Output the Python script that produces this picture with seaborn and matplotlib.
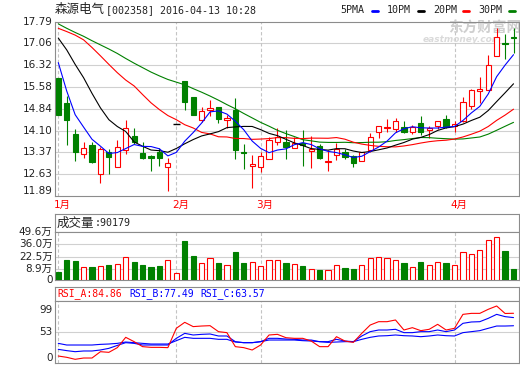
import numpy as np
import pandas as pd
import matplotlib
matplotlib.use("Agg")
import matplotlib.pyplot as plt
import matplotlib.transforms as mtrans
from matplotlib.lines import Line2D
import seaborn as sns

sns.set_theme(style="white")
plt.rcParams['font.family'] = ['DejaVu Sans', 'Noto Sans CJK SC']

# ---------------- data ----------------
title_name = "森源电气"
title_rest = "[002358] 2016-04-13 10:28"
month_labels = ["1月", "2月", "3月", "4月"]
month_idx = [0, 14, 24, 47]
price_ticks = [17.79, 17.06, 16.32, 15.58, 14.84, 14.10, 13.37, 12.63, 11.89]
vol_ticks = [49.6, 36.0, 22.5, 8.9]
vol_tick_labels = ["49.6万", "36.0万", "22.5万", "8.9万"]
rsi_ticks = [99, 53, 0]
legend_names = ["5PMA", "10PM", "20PM", "30PM"]

open_ = [15.87, 15.02, 13.98, 13.30, 13.62, 12.62, 13.37, 12.88, 13.45, 13.93,
         13.34, 13.25, 13.37, 12.87, 14.32, 15.77, 15.24, 14.47, 14.81, 14.90,
         14.45, 14.81, 13.37, 12.92, 12.86, 13.13, 13.73, 13.71, 13.52, 13.68,
         13.42, 13.59, 13.05, 13.28, 13.39, 13.25, 13.09, 13.43, 14.04, 14.19,
         14.15, 14.22, 14.05, 14.36, 14.11, 14.25, 14.49, 14.27, 14.42, 14.93,
         15.45, 15.46, 16.61, 17.06, 17.25]
high = [15.87, 15.27, 14.17, 13.72, 13.70, 13.56, 13.47, 13.79, 14.47, 14.19,
        13.70, 13.27, 13.51, 13.19, 14.32, 15.77, 15.24, 14.90, 15.12, 14.90,
        14.62, 15.21, 13.65, 13.28, 13.39, 13.88, 14.19, 14.13, 13.90, 14.13,
        13.92, 13.65, 13.43, 13.68, 13.47, 13.28, 13.39, 14.02, 14.27, 14.49,
        14.53, 14.42, 14.30, 14.61, 14.25, 14.44, 14.64, 14.42, 15.24, 15.52,
        15.92, 16.67, 17.56, 17.37, 17.56]
low = [14.62, 13.63, 13.09, 13.16, 13.02, 12.33, 12.64, 12.86, 13.30, 13.65,
       13.13, 12.75, 12.92, 12.07, 14.32, 14.79, 14.62, 14.38, 14.59, 14.36,
       14.19, 13.13, 12.81, 12.15, 12.71, 13.13, 13.62, 13.13, 13.50, 12.92,
       12.85, 13.13, 12.75, 13.11, 13.13, 12.88, 13.09, 13.39, 13.85, 14.04,
       14.04, 14.02, 13.98, 13.95, 13.85, 14.15, 14.19, 14.07, 14.38, 14.84,
       15.04, 15.46, 16.61, 16.52, 16.72]
close = [14.64, 14.45, 13.39, 13.51, 13.05, 13.47, 13.22, 13.54, 14.19, 13.73,
         13.16, 13.19, 13.16, 12.99, 14.32, 15.06, 14.64, 14.77, 14.88, 14.49,
         14.52, 13.43, 13.33, 12.97, 13.25, 13.79, 13.88, 13.53, 13.67, 13.60,
         13.47, 13.16, 13.09, 13.47, 13.22, 13.02, 13.37, 13.88, 14.24, 14.22,
         14.42, 14.06, 14.22, 14.06, 14.18, 14.42, 14.22, 14.32, 15.08, 15.46,
         15.52, 16.32, 17.25, 17.03, 17.22]

ma5_head = [16.40, 15.44, 14.64, 14.22]
ma10_head = [17.23, 16.83, 16.34, 15.89, 15.36, 14.87, 14.47, 14.24, 14.07]
ma20_head = [17.56, 17.45, 17.33, 17.17, 16.91, 16.63, 16.34, 16.06, 15.81, 15.61,
             15.32, 15.04, 14.81, 14.61, 14.47, 14.30, 14.19, 14.04, 13.99]
ma30_head = [17.71, 17.56, 17.42, 17.29, 17.14, 17.00, 16.86, 16.71, 16.54, 16.38,
             16.23, 16.08, 15.95, 15.83, 15.74, 15.65, 15.52, 15.40, 15.27, 15.13,
             14.98, 14.84, 14.68, 14.53, 14.38, 14.25, 14.11, 14.00, 13.90]

volume = [5.9, 18.9, 17.8, 10.8, 11.5, 12.2, 13.3, 14.4, 21.9, 16.7,
          13.3, 11.1, 12.2, 18.5, 4.1, 40.0, 23.3, 15.2, 20.8, 15.2,
          13.0, 27.4, 15.2, 16.3, 12.2, 18.5, 18.5, 15.6, 14.1, 12.2,
          8.6, 7.8, 7.5, 13.0, 10.0, 8.9, 13.0, 20.8, 22.2, 21.1,
          18.5, 15.6, 11.1, 16.7, 13.3, 16.7, 15.6, 13.0, 27.4, 25.5,
          30.0, 41.1, 44.1, 28.9, 9.02]
last_volume = 90179

rsi_a = [11.9, 9.7, 6.3, 8.5, 8.5, 19.3, 18.2, 26.2, 43.8, 36.4,
         27.9, 26.7, 26.7, 26.2, 59.2, 69.4, 62.1, 63.1, 63.7, 53.5,
         51.8, 27.9, 26.2, 22.2, 30.7, 47.8, 48.9, 43.2, 42.1, 42.1,
         37.5, 27.9, 27.9, 44.9, 37.5, 35.2, 50.6, 64.8, 70.5, 70.5,
         73.4, 56.3, 60.3, 55.2, 57.5, 66.0, 56.3, 59.2, 83.0, 84.7,
         84.7, 91.6, 97.3, 84.5, 84.86]
rsi_b = [23.3, 21.1, 19.3, 20.5, 20.5, 22.2, 25.0, 30.0, 34.7, 33.5,
         30.7, 30.7, 30.7, 30.7, 42.1, 50.6, 47.8, 48.9, 49.5, 46.1,
         46.1, 36.4, 34.7, 34.7, 36.4, 42.1, 42.1, 40.9, 40.4, 39.2,
         39.2, 36.4, 36.4, 40.4, 37.5, 36.4, 46.1, 53.5, 56.3, 56.3,
         57.5, 51.8, 51.8, 53.5, 53.5, 56.3, 53.5, 56.3, 67.7, 70.0,
         70.5, 76.2, 83.0, 79.1, 77.49]
rsi_c = [33.5, 30.7, 30.7, 30.7, 30.7, 31.8, 32.4, 33.5, 35.8, 34.7,
         33.5, 32.4, 32.4, 32.4, 38.1, 43.8, 42.1, 42.1, 42.1, 40.4,
         40.4, 35.8, 34.7, 34.7, 36.4, 39.2, 39.2, 39.2, 39.2, 38.1,
         37.5, 36.4, 35.2, 35.8, 36.4, 36.4, 40.4, 43.8, 46.1, 46.6,
         47.8, 46.6, 46.1, 44.9, 46.1, 47.8, 46.6, 46.1, 51.8, 53.5,
         55.2, 59.2, 63.1, 63.1, 63.57]

# ---------------- style ----------------
W, H = 520, 365
RED, GREEN, BLUE, BLACK = '#ff0000', '#008000', '#0000ff', '#000000'
BORDER, GRID, VGRID = '#8c8c8c', '#d0d0d0', '#c4c4c4'
TXT = '#222222'
MONO = ['DejaVu Sans Mono', 'Noto Sans CJK SC']
CJK = ['Noto Sans CJK SC', 'DejaVu Sans']
LW = 0.8

fig = plt.figure(figsize=(W / 100, H / 100), dpi=100)
fig.patch.set_facecolor('white')


def fx(x):
    return x / W


def fy(y):
    return 1 - y / H


def px_ax(x0, y0, x1, y1):
    ax = fig.add_axes([x0 / W, 1 - y1 / H, (x1 - x0) / W, (y1 - y0) / H])
    ax.set_facecolor('white')
    for s in ax.spines.values():
        s.set_color(BORDER)
        s.set_linewidth(LW)
    ax.set_xticks([])
    ax.set_yticks([])
    return ax


n = len(close)
idx = np.arange(n)
o = np.array(open_)
c = np.array(close)
h = np.array(high)
l = np.array(low)
XL = (-0.39, 54.59)
X0, X1 = 55, 518.5


def rolling_with_head(head, window):
    s = pd.Series(close).rolling(window).mean().to_numpy()
    s[:len(head)] = head
    return s


ma5 = rolling_with_head(ma5_head, 5)
ma10 = rolling_with_head(ma10_head, 10)
ma20 = rolling_with_head(ma20_head, 20)
ma30 = rolling_with_head(ma30_head, 30)

# ---------------- price panel ----------------
ax_p = px_ax(X0, 21.5, X1, 196)
ax_p.set_xlim(*XL)
ax_p.set_ylim(price_ticks[-1], price_ticks[0])
for t in price_ticks[1:-1]:
    ax_p.axhline(t, color=GRID, lw=LW, zorder=0.6)
for m in month_idx:
    ax_p.axvline(m, color=VGRID, lw=LW, ls=(0, (3, 2)), zorder=0.7)

# watermark
ax_p.text(fx(448), fy(28), "东方财富网", transform=fig.transFigure, family=CJK,
          fontsize=10.5, fontweight='bold', color='#cfcfcf', va='center', ha='left', zorder=0.8)
ax_p.text(fx(423), fy(40), "eastmoney.com", transform=fig.transFigure, family='DejaVu Sans',
          fontsize=6.5, fontweight='bold', style='italic', color='#dadada', va='center', ha='left', zorder=0.8)

ytr = mtrans.blended_transform_factory(fig.transFigure, ax_p.transData)
for i, t in enumerate(price_ticks):
    va = 'bottom' if i == len(price_ticks) - 1 else 'center'
    ax_p.text(fx(52.5), t, f"{t:.2f}", transform=ytr, ha='right', va=va,
              fontsize=7.5, color=TXT, family='DejaVu Sans')

flat = h == l
up = c >= o
edge = np.where(up, RED, GREEN)
face = np.where(up, 'white', GREEN)
nf = ~flat
ax_p.vlines(idx[nf], l[nf], h[nf], colors=edge[nf], lw=LW, zorder=2)
body_bot = np.minimum(o, c)
body_h = np.maximum(np.abs(c - o), 0.015)
ax_p.bar(idx[nf], body_h[nf], bottom=body_bot[nf], width=0.62, color=face[nf],
         edgecolor=edge[nf], linewidth=LW, zorder=3)
ax_p.hlines(c[flat], idx[flat] - 0.38, idx[flat] + 0.38, colors=BLACK, lw=1.0, zorder=3)

for ma, col in [(ma30, GREEN), (ma20, RED), (ma10, BLACK), (ma5, BLUE)]:
    sns.lineplot(x=idx, y=ma, ax=ax_p, color=col, linewidth=LW, zorder=4)
ax_p.set_xlabel('')
ax_p.set_ylabel('')
ax_p.set_xlim(*XL)
ax_p.set_ylim(price_ticks[-1], price_ticks[0])

# month labels
mtr = mtrans.blended_transform_factory(ax_p.transData, fig.transFigure)
for m, lab in zip(month_idx, month_labels):
    ax_p.text(m - 4 / 8.43, fy(205), lab, transform=mtr, ha='left', va='center',
              fontsize=7.5, color=RED, family=['DejaVu Sans', 'Noto Sans CJK SC'])

# title and legend
fig.text(fx(55), fy(10), title_name, family=CJK, fontsize=9, color=TXT, va='center', ha='left')
fig.text(fx(106), fy(10), title_rest, family=MONO, fontsize=7.2, color=TXT, va='center', ha='left')
leg_x = [340, 387, 433, 478]
leg_dash = [372, 418, 463, 509]
for name, xt, xd, col in zip(legend_names, leg_x, leg_dash, [BLUE, BLACK, RED, GREEN]):
    fig.text(fx(xt), fy(10), name, family=MONO, fontsize=7.2, color=TXT, va='center', ha='left')
    fig.add_artist(Line2D([fx(xd), fx(xd + 6)], [fy(11), fy(11)], color=col, lw=2,
                          transform=fig.transFigure))

# ---------------- volume panel ----------------
VFLOOR = -3.3
ax_vh = px_ax(X0, 214, X1, 232)
ax_vh.text(fx(57), fy(223), "成交量", transform=fig.transFigure, family=CJK, fontsize=9,
           color=TXT, va='center', ha='left')
ax_vh.text(fx(95), fy(223), f":{last_volume}", transform=fig.transFigure, family=MONO, fontsize=7.2,
           color=TXT, va='center', ha='left')

ax_v = px_ax(X0, 232, X1, 280)
ax_v.set_xlim(*XL)
ax_v.set_ylim(VFLOOR, vol_ticks[0])
for t in vol_ticks[1:]:
    ax_v.axhline(t, color=GRID, lw=LW, zorder=0.6)
for m in month_idx:
    ax_v.axvline(m, color=VGRID, lw=LW, ls=(0, (3, 2)), zorder=0.7)
v = np.array(volume)
ax_v.bar(idx, v - VFLOOR, bottom=VFLOOR, width=0.62, color=face, edgecolor=edge,
         linewidth=LW, zorder=3)
vtr = mtrans.blended_transform_factory(fig.transFigure, ax_v.transData)
for t, lab in zip(vol_ticks, vol_tick_labels):
    ax_v.text(fx(52.5), t, lab, transform=vtr, ha='right', va='center', fontsize=7.5,
              color=TXT, family=['DejaVu Sans', 'Noto Sans CJK SC'])
ax_v.text(fx(52.5), VFLOOR, "0", transform=vtr, ha='right', va='center', fontsize=7.5,
          color=TXT, family='DejaVu Sans')

# ---------------- RSI panel ----------------
ax_rh = px_ax(X0, 287, X1, 301)
rsi_head = [(f"RSI_A:{rsi_a[-1]:.2f}", 57, RED), (f"RSI_B:{rsi_b[-1]:.2f}", 129, BLUE),
            (f"RSI_C:{rsi_c[-1]:.2f}", 200, BLUE)]
for txt, xx, col in rsi_head:
    ax_rh.text(fx(xx), fy(294), txt, transform=fig.transFigure, family=MONO, fontsize=7.0,
               color=col, va='center', ha='left')

ax_r = px_ax(X0, 301, X1, 363)
ax_r.set_xlim(*XL)
ax_r.set_ylim(0, 105.8)
ax_r.axhline(53, color=GRID, lw=LW, zorder=0.6)
for m in month_idx:
    ax_r.axvline(m, color=VGRID, lw=LW, ls=(0, (3, 2)), zorder=0.7)
sns.lineplot(x=idx, y=rsi_c, ax=ax_r, color=BLUE, linewidth=LW, zorder=3)
sns.lineplot(x=idx, y=rsi_b, ax=ax_r, color=BLUE, linewidth=LW, zorder=3)
sns.lineplot(x=idx, y=rsi_a, ax=ax_r, color=RED, linewidth=LW, zorder=4)
ax_r.set_xlabel('')
ax_r.set_ylabel('')
ax_r.set_xlim(*XL)
ax_r.set_ylim(0, 105.8)
rtr = mtrans.blended_transform_factory(fig.transFigure, ax_r.transData)
for t, va in zip(rsi_ticks, ['top', 'center', 'bottom']):
    ax_r.text(fx(52.5), t, str(t), transform=rtr, ha='right', va=va, fontsize=7.5,
              color=TXT, family='DejaVu Sans')

fig.savefig("out.png", dpi=100, facecolor='white')
